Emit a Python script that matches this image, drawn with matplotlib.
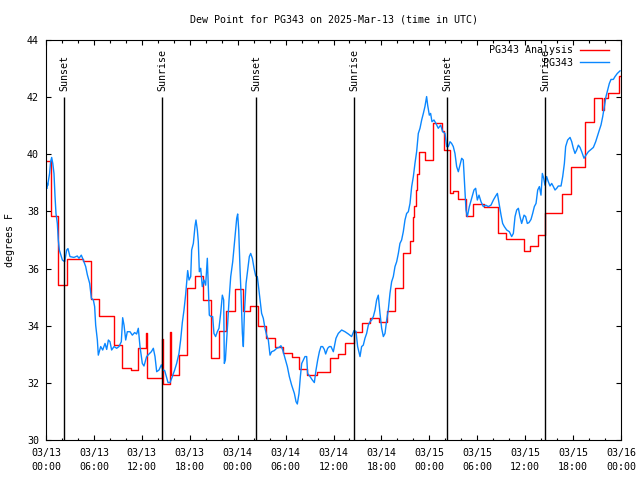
import matplotlib
matplotlib.use('Agg')
import matplotlib.pyplot as plt
import numpy as np

# Hours since 2025-03-13 00:00 UTC
analysis_hours = [0.0, 0.67, 1.55, 2.6, 4.67, 5.6, 6.6, 8.55, 9.56, 10.6, 11.56,
                  12.55, 12.62, 14.55, 14.62, 15.55, 15.65, 16.62, 17.62, 18.6,
                  19.6, 20.6, 21.6, 22.6, 23.65, 24.7, 25.6, 26.6, 27.6, 28.7,
                  29.7, 30.8, 31.7, 32.7, 33.9, 35.6, 36.6, 37.5, 38.56, 39.6,
                  40.57, 41.74, 42.65, 43.7, 44.66, 45.58, 45.9, 46.1, 46.35,
                  46.5, 46.7, 47.5, 48.5, 49.55, 49.85, 50.6, 51.0, 51.6, 52.6,
                  53.5, 54.9, 56.6, 57.6, 58.7, 59.8, 60.6, 61.6, 62.5, 64.6,
                  65.7, 67.5, 68.6, 69.6, 69.9, 70.4, 71.7, 72.0]
analysis_vals = [39.78, 37.84, 35.42, 36.32, 36.26, 34.92, 34.35, 33.32, 32.51, 32.45, 33.21,
                 33.75, 32.18, 33.52, 31.95, 33.79, 32.27, 32.97, 35.31, 35.74,
                 34.90, 32.86, 33.81, 34.51, 35.27, 34.53, 34.69, 33.99, 33.58, 33.27,
                 33.06, 32.89, 32.48, 32.27, 32.38, 32.86, 33.01, 33.38, 33.77, 34.08,
                 34.26, 34.14, 34.51, 35.31, 36.56, 36.98, 37.80, 38.20, 38.75,
                 39.30, 40.09, 39.80, 41.08, 40.83, 40.15, 38.63, 38.70, 38.43, 37.84,
                 38.26, 38.17, 37.26, 37.02, 37.05, 36.61, 36.79, 37.17, 37.93, 38.61,
                 39.54, 41.14, 41.96, 41.55, 41.96, 42.13, 42.74, 42.74]

obs_hours = [0.13, 0.18, 0.2, 0.45, 0.58, 0.71, 0.85, 1.0, 1.13, 1.25, 1.42, 1.54,
             1.67, 2.05, 2.34, 2.59, 2.75, 3.0, 3.5, 3.92, 4.13, 4.42, 4.67, 4.97,
             5.18, 5.47, 5.68, 5.93, 6.09, 6.22, 6.43, 6.55, 6.85, 7.1, 7.39, 7.6,
             7.81, 8.01, 8.22, 8.52, 8.85, 9.14, 9.43, 9.6, 9.77, 9.98, 10.18, 10.52,
             10.81, 11.1, 11.35, 11.56, 11.77, 12.06, 12.27, 12.6, 12.9, 13.19, 13.44,
             13.65, 13.86, 14.15, 14.44, 14.65, 14.86, 15.07, 15.28, 15.53, 15.82,
             16.11, 16.36, 16.65, 16.86, 17.07, 17.28, 17.49, 17.74, 17.91, 18.12,
             18.24, 18.45, 18.66, 18.78, 18.95, 19.07, 19.2, 19.37, 19.57, 19.78,
             19.99, 20.2, 20.33, 20.45, 20.66, 20.87, 21.03, 21.24, 21.45, 21.66,
             21.87, 22.08, 22.25, 22.33, 22.46, 22.62, 22.75, 22.92, 23.13, 23.38,
             23.67, 23.88, 24.0, 24.13, 24.3, 24.42, 24.59, 24.71, 24.84, 25.05,
             25.25, 25.46, 25.63, 25.84, 26.05, 26.26, 26.46, 26.59, 26.8, 27.0,
             27.21, 27.42, 27.63, 27.84, 28.05, 28.26, 28.59, 28.88, 29.18, 29.42,
             29.64, 29.93, 30.22, 30.47, 30.76, 31.1, 31.31, 31.47, 31.68, 31.85,
             32.02, 32.22, 32.43, 32.64, 32.76, 33.06, 33.35, 33.6, 33.81, 34.02,
             34.23, 34.43, 34.64, 34.85, 35.02, 35.27, 35.48, 35.69, 35.98, 36.31,
             36.6, 37.02, 37.44, 37.86, 38.27, 38.57, 38.82, 39.02, 39.32, 39.52,
             39.73, 39.94, 40.15, 40.36, 40.57, 40.78, 40.99, 41.2, 41.4, 41.61,
             41.82, 42.03, 42.24, 42.45, 42.66, 42.86, 43.07, 43.28, 43.49, 43.7,
             43.91, 44.12, 44.32, 44.53, 44.74, 44.95, 45.16, 45.37, 45.58, 45.79,
             46.0, 46.2, 46.41, 46.62, 46.83, 47.04, 47.25, 47.45, 47.66, 47.79,
             48.0, 48.16, 48.33, 48.58, 48.83, 49.12, 49.42, 49.67, 49.96, 50.17,
             50.38, 50.59, 50.79, 51.0, 51.21, 51.42, 51.63, 51.84, 52.05, 52.25,
             52.46, 52.59, 52.76, 53.01, 53.3, 53.59, 53.8, 54.01, 54.22, 54.47,
             54.76, 55.06, 55.39, 55.72, 56.02, 56.31, 56.52, 56.73, 56.98, 57.18,
             57.39, 57.69, 58.02, 58.31, 58.52, 58.73, 58.94, 59.15, 59.35, 59.56,
             59.86, 60.06, 60.27, 60.48, 60.73, 60.94, 61.15, 61.36, 61.57, 61.78,
             61.98, 62.15, 62.32, 62.48, 62.69, 62.9, 63.11, 63.32, 63.53, 63.74,
             63.95, 64.15, 64.49, 64.7, 64.91, 65.07, 65.32, 65.62, 65.83, 66.03,
             66.24, 66.45, 66.66, 66.87, 67.08, 67.37, 67.62, 67.91, 68.24, 68.54,
             68.83, 69.08, 69.29, 69.5, 69.71, 69.91, 70.12, 70.33, 70.54, 70.75,
             71.04, 71.25, 71.54, 71.88]
obs_vals = [38.81, 38.98, 38.9, 39.33, 39.74, 39.89, 39.68, 39.33, 38.52, 37.93, 37.58, 37.0,
            36.65, 36.3, 36.24, 36.65, 36.70, 36.42, 36.39, 36.44, 36.36, 36.47, 36.3, 36.07,
            35.78, 35.48, 34.96, 34.9, 34.67, 34.02, 33.5, 32.97, 33.27, 33.15, 33.38, 33.17,
            33.5, 33.44, 33.15, 33.27, 33.21, 33.27, 33.44, 34.28, 34.02, 33.5, 33.79, 33.79,
            33.67, 33.76, 33.71, 33.91, 33.27, 32.68, 32.59, 32.92, 33.01, 33.09, 33.21,
            32.92, 32.39, 32.45, 32.63, 32.45, 32.43, 32.22, 32.01, 32.01, 32.22,
            32.45, 32.68, 33.03, 33.5, 34.11, 34.55, 35.1, 35.93, 35.6, 35.72,
            36.65, 36.88, 37.49, 37.7, 37.35, 36.94, 35.89, 36.01, 35.37, 35.6,
            35.42, 36.36, 35.37, 34.37, 34.32, 34.32, 33.73, 33.62, 33.79, 33.91,
            34.43, 35.07, 34.9, 32.68, 32.8, 33.5, 34.08, 34.9, 35.72, 36.24,
            37.12, 37.76, 37.91, 37.35, 35.95, 35.13, 33.73, 33.27, 34.43, 35.48,
            35.95, 36.42, 36.53, 36.36, 36.01, 35.74, 35.72, 35.42, 34.9, 34.43,
            34.26, 33.91, 33.67, 33.5, 32.97, 33.09, 33.13, 33.21, 33.24, 33.3,
            33.15, 32.86, 32.57, 32.22, 31.92, 31.63, 31.34, 31.26, 31.63, 32.22,
            32.68, 32.8, 32.92, 32.92, 32.33, 32.22, 32.1, 32.01, 32.45, 32.8,
            33.09, 33.27, 33.27, 33.17, 33.01, 33.21, 33.27, 33.27, 33.09, 33.56,
            33.73, 33.85, 33.79, 33.71, 33.62, 33.83, 33.8, 33.27, 32.92, 33.27,
            33.32, 33.56, 33.73, 34.02, 34.14, 34.2, 34.32, 34.55, 34.9, 35.07,
            34.43, 33.91, 33.62, 33.73, 34.2, 34.55, 35.13, 35.54, 35.72, 36.07,
            36.24, 36.53, 36.88, 37.0, 37.29, 37.7, 37.93, 37.99, 38.28, 38.87,
            39.22, 39.68, 40.09, 40.73, 40.91, 41.2, 41.43, 41.67, 42.02, 41.72,
            41.37, 41.43, 41.14, 41.2, 41.08, 40.91, 41.02, 40.79, 40.73, 40.27,
            40.27, 40.44, 40.38, 40.27, 40.03, 39.57, 39.39, 39.62, 39.86, 39.8,
            38.75, 38.05, 37.82, 38.17, 38.46, 38.75, 38.81, 38.4, 38.57, 38.34,
            38.17, 38.22, 38.17, 38.22, 38.4, 38.54, 38.63, 38.28, 37.87, 37.58,
            37.47, 37.35, 37.29, 37.12, 37.23, 37.82, 38.05, 38.11, 37.82, 37.58,
            37.87, 37.82, 37.58, 37.61, 37.72, 37.93, 38.17, 38.28, 38.75, 38.87,
            38.57, 39.33, 39.16, 38.92, 39.22, 39.04, 38.89, 38.98, 38.87, 38.75,
            38.81, 38.89, 38.89, 39.22, 39.68, 40.27, 40.5, 40.59, 40.44, 40.21,
            40.03, 40.15, 40.32, 40.24, 40.09, 39.86, 39.97, 40.09, 40.17, 40.24,
            40.44, 40.67, 40.85, 41.03, 41.32, 41.67, 42.02, 42.25, 42.48, 42.62,
            42.62, 42.72, 42.83, 42.92]

sun_hours = [2.29, 14.57, 26.34, 38.61, 50.26, 62.53]
sun_labels = ['Sunset', 'Sunrise', 'Sunset', 'Sunrise', 'Sunset', 'Sunrise']

tick_hours = list(range(0, 73, 6))
tick_labels = ['03/13\n00:00', '03/13\n06:00', '03/13\n12:00', '03/13\n18:00',
               '03/14\n00:00', '03/14\n06:00', '03/14\n12:00', '03/14\n18:00',
               '03/15\n00:00', '03/15\n06:00', '03/15\n12:00', '03/15\n18:00',
               '03/16\n00:00']

plt.rcParams['font.family'] = 'DejaVu Sans Mono'
plt.rcParams['font.size'] = 7.2

fig = plt.figure(figsize=(6.4, 4.8), dpi=100)
ax = fig.add_axes([46 / 640, 40 / 480, 575 / 640, 400 / 480])

ax.plot(analysis_hours, analysis_vals, drawstyle='steps-post', color='#ff0000',
        lw=1.0, label='PG343 Analysis')
ax.plot(obs_hours, obs_vals, color='#0a87ff', lw=1.0, label='PG343')

ax.vlines(sun_hours, 30, 42, color='black', lw=1.0)
for h, lab in zip(sun_hours, sun_labels):
    ax.text(h, 42.2, lab, rotation=90, ha='center', va='bottom', fontsize=7.2)

ax.set_xlim(0, 72)
ax.set_ylim(30, 44)
ax.set_xticks(tick_hours)
ax.set_xticklabels(tick_labels, linespacing=1.55)
ax.set_xticks(np.arange(0, 73, 2), minor=True)
ax.set_yticks(np.arange(30, 45, 2))
ax.tick_params(which='both', direction='in', top=True, right=True, width=0.8)
ax.tick_params(which='major', length=3.6)
ax.tick_params(which='minor', length=1.8)
ax.tick_params(axis='x', pad=5.5)
ax.tick_params(axis='y', pad=5)
for s in ax.spines.values():
    s.set_linewidth(0.8)

ax.legend(loc='upper right', frameon=False, markerfirst=False, handlelength=2.9,
          handletextpad=0.7, labelspacing=0.25, borderaxespad=0.3,
          bbox_to_anchor=(0.9905, 1.004), fontsize=7.2)

fig.text(333.5 / 640, 1 - 19 / 480, 'Dew Point for PG343 on 2025-Mar-13 (time in UTC)',
         ha='center', va='center', fontsize=7.2)
fig.text(10 / 640, 0.5, 'degrees F', rotation=90, ha='center', va='center', fontsize=7.2)

fig.savefig('out.png', dpi=100)
